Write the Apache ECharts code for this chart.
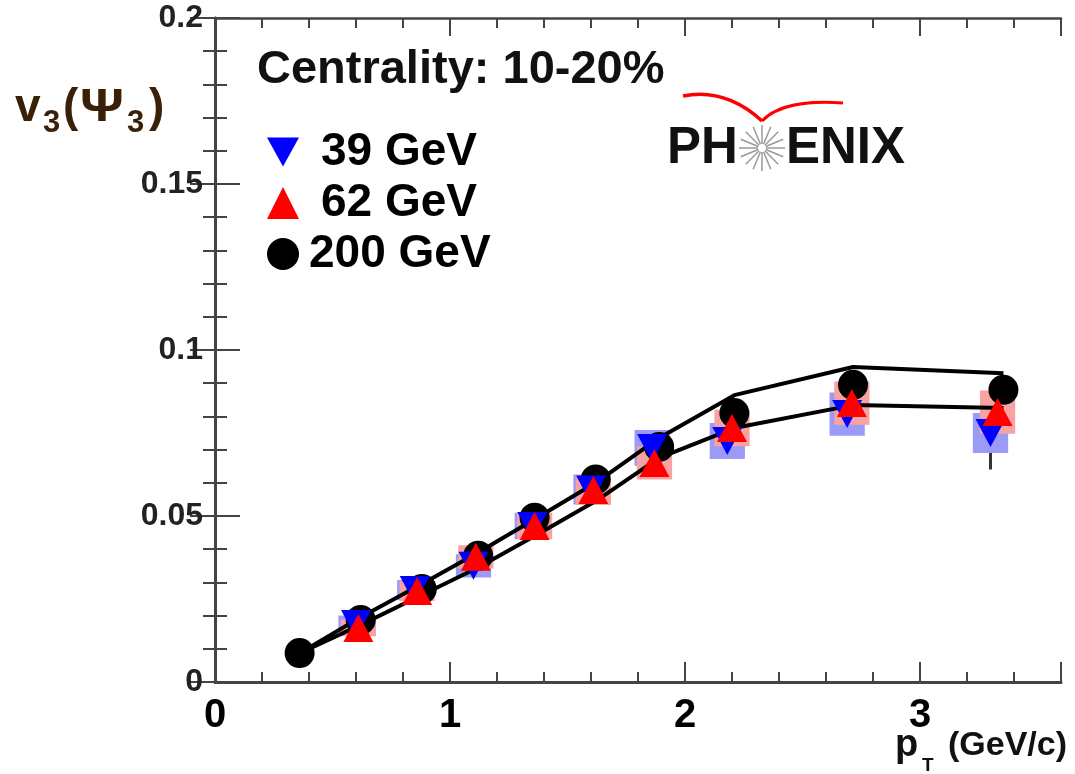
<!DOCTYPE html>
<html>
<head>
<meta charset="utf-8">
<script src="https://cdn.jsdelivr.net/npm/echarts@6/dist/echarts.min.js"></script>
<style>
html,body{margin:0;padding:0;background:#fff;}
#main{width:1075px;height:774px;}
</style>
</head>
<body>
<div id="main"></div>
<script>
// 39 GeV
var x39 = [0.60, 0.85, 1.10, 1.35, 1.60, 1.86, 2.18, 2.69, 3.30];
var v39 = [0.0175, 0.0277, 0.0350, 0.0470, 0.0580, 0.0705, 0.0726, 0.0807, 0.0750];
var stat39 = [0.0008, 0.0009, 0.0011, 0.0014, 0.0018, 0.0024, 0.0034, 0.0055, 0.0110];
var sys39 = [0.0025, 0.0030, 0.0035, 0.0040, 0.0045, 0.0054, 0.0054, 0.0065, 0.0060];
// 62 GeV
var x62 = [0.61, 0.86, 1.11, 1.36, 1.61, 1.87, 2.20, 2.71, 3.33];
var v62 = [0.0163, 0.0274, 0.0377, 0.0470, 0.0578, 0.0660, 0.0765, 0.0840, 0.0813];
var stat62 = [0.0007, 0.0008, 0.0010, 0.0012, 0.0015, 0.0020, 0.0028, 0.0040, 0.0050];
var sys62 = [0.0025, 0.0030, 0.0035, 0.0040, 0.0045, 0.0050, 0.0055, 0.0065, 0.0065];
// 200 GeV
var x200 = [0.36, 0.62, 0.88, 1.12, 1.36, 1.62, 1.89, 2.21, 2.715, 3.355];
var v200 = [0.0087, 0.0187, 0.0280, 0.0380, 0.0495, 0.0610, 0.0708, 0.0810, 0.0895, 0.0880];
var sysHi200 = [0.0087, 0.0195, 0.0295, 0.0390, 0.0490, 0.0600, 0.0735, 0.0864, 0.0949, 0.0930];
var sysLo200 = [0.0087, 0.0172, 0.0262, 0.0345, 0.0440, 0.0545, 0.0675, 0.0765, 0.0834, 0.0825];

var xTicksMajor = 1, xTicksMinor = 0.2;

var FONT = '"Liberation Sans", Arial, Helvetica, sans-serif';
var axisCol = '#444';
var titleCol = '#3a2008';

function pairs(xs, ys) {
    return xs.map(function (x, i) { return [x, ys[i]]; });
}

// systematic boxes
function boxSeries(name, xs, ys, sys, color, z) {
    return {
        name: name, type: 'custom', z: z, silent: true,
        data: xs.map(function (x, i) { return [x, ys[i], sys[i]]; }),
        renderItem: function (params, api) {
            var x = api.value(0), y = api.value(1), s = api.value(2);
            var p1 = api.coord([x - 0.075, y + s]);
            var p2 = api.coord([x + 0.075, y - s]);
            return {
                type: 'rect',
                shape: {x: p1[0], y: p1[1], width: p2[0] - p1[0], height: p2[1] - p1[1]},
                style: {fill: color}
            };
        }
    };
}

// stat error bars
function errSeries(name, xs, ys, err) {
    return {
        name: name, type: 'custom', z: 0, silent: true,
        data: xs.map(function (x, i) { return [x, ys[i], err[i]]; }),
        renderItem: function (params, api) {
            var x = api.value(0), y = api.value(1), e = api.value(2);
            var a = api.coord([x, y + e]);
            var b = api.coord([x, y - e]);
            return {
                type: 'line',
                shape: {x1: a[0], y1: a[1], x2: b[0], y2: b[1]},
                style: {stroke: '#333', lineWidth: 3}
            };
        }
    };
}

function lineSeries(name, xs, ys) {
    return {
        name: name, type: 'line', z: 3, silent: true,
        data: pairs(xs, ys),
        symbol: 'none',
        lineStyle: {color: '#000', width: 4}
    };
}

// PHENIX star spokes
var spokes = [];
for (var k = 0; k < 16; k++) {
    var a = k * Math.PI / 8;
    spokes.push({
        type: 'line',
        shape: {x1: 762 + 4 * Math.cos(a), y1: 148 + 4 * Math.sin(a), x2: 762 + 23 * Math.cos(a), y2: 148 + 23 * Math.sin(a)},
        style: {stroke: '#9a9a9a', lineWidth: 1.5}
    });
}

var myChart = echarts.init(document.getElementById('main'));
var option = {
    backgroundColor: '#fff',
    animation: false,
    grid: {left: 215, right: 14, top: 18, bottom: 92},
    legend: {
        orient: 'vertical',
        left: 262, top: 124,
        itemWidth: 32, itemHeight: 32, itemGap: 5,
        textStyle: {
            fontSize: 46, fontWeight: 'bold', fontFamily: FONT, color: '#000',
            rich: {
                n: {fontSize: 46, fontWeight: 'bold', fontFamily: FONT, color: '#000', padding: [0, 0, 0, 17]},
                w: {fontSize: 46, fontWeight: 'bold', fontFamily: FONT, color: '#000', padding: [0, 0, 0, 5]}
            }
        },
        formatter: function (name) {
            return name === '200 GeV' ? '{w|' + name + '}' : '{n|' + name + '}';
        },
        data: [
            {name: '39 GeV', icon: 'path://M0,0 L2,0 L1,1.8 Z'},
            {name: '62 GeV', icon: 'triangle'},
            {name: '200 GeV', icon: 'circle'}
        ],
        selectedMode: false
    },
    xAxis: [
        {
            type: 'value', min: 0, max: 3.6, interval: xTicksMajor, position: 'bottom',
            axisLine: {lineStyle: {color: axisCol, width: 3}},
            axisTick: {inside: true, length: 20, lineStyle: {color: axisCol, width: 2}},
            splitLine: {show: false},
            axisLabel: {
                fontSize: 40, fontWeight: 'bold', fontFamily: FONT, color: '#000', margin: 14,
                formatter: function (v) { return Math.abs(v - Math.round(v)) < 1e-6 ? String(Math.round(v)) : ''; }
            }
        },
        {
            type: 'value', min: 0, max: 3.6, interval: xTicksMinor, position: 'bottom',
            axisLine: {show: false},
            axisTick: {inside: true, length: 10, lineStyle: {color: axisCol, width: 2}},
            splitLine: {show: false}, axisLabel: {show: false}
        },
        {
            type: 'value', min: 0, max: 3.6, interval: xTicksMajor, position: 'top',
            axisLine: {lineStyle: {color: axisCol, width: 2.5}},
            axisTick: {inside: true, length: 18, lineStyle: {color: axisCol, width: 2}},
            splitLine: {show: false}, axisLabel: {show: false}
        },
        {
            type: 'value', min: 0, max: 3.6, interval: xTicksMinor, position: 'top',
            axisLine: {show: false},
            axisTick: {inside: true, length: 10, lineStyle: {color: axisCol, width: 2}},
            splitLine: {show: false}, axisLabel: {show: false}
        }
    ],
    yAxis: [
        {
            type: 'value', min: 0, max: 0.2, interval: 0.05, position: 'left',
            axisLine: {show: true, lineStyle: {color: axisCol, width: 3}},
            axisTick: {show: true, inside: true, length: 25, lineStyle: {color: axisCol, width: 2}},
            minorTick: {show: true, splitNumber: 5, length: 12, lineStyle: {color: axisCol, width: 2}},
            splitLine: {show: false},
            axisLabel: {fontSize: 32, fontWeight: 'bold', fontFamily: FONT, color: '#222', margin: 12}
        },
        {
            type: 'value', min: 0, max: 0.2, interval: 0.05, position: 'right',
            axisLine: {show: true, lineStyle: {color: axisCol, width: 2.5}},
            axisTick: {show: true, inside: true, length: 25, lineStyle: {color: axisCol, width: 2}},
            minorTick: {show: true, splitNumber: 5, length: 12, lineStyle: {color: axisCol, width: 2}},
            splitLine: {show: false}, axisLabel: {show: false}
        }
    ],
    series: [
        errSeries('err39', x39, v39, stat39),
        errSeries('err62', x62, v62, stat62),
        boxSeries('sys39', x39, v39, sys39, '#9b9bf7', 1),
        boxSeries('sys62', x62, v62, sys62, '#f7a3a3', 2),
        lineSeries('sysHi200', x200, sysHi200),
        lineSeries('sysLo200', x200, sysLo200),
        {
            name: '200 GeV', type: 'scatter', z: 4,
            data: pairs(x200, v200),
            symbol: 'circle', symbolSize: 30,
            itemStyle: {color: '#000', opacity: 1}
        },
        {
            name: '39 GeV', type: 'scatter', z: 5,
            data: pairs(x39, v39),
            symbol: 'triangle', symbolRotate: 180, symbolSize: [30, 28],
            itemStyle: {color: '#0000ff', opacity: 1}
        },
        {
            name: '62 GeV', type: 'scatter', z: 6,
            data: pairs(x62, v62),
            symbol: 'triangle', symbolSize: [30, 28],
            itemStyle: {color: '#ff0000', opacity: 1}
        }
    ],
    graphic: [
        {type: 'text', left: 257, top: 47, style: {text: 'Centrality: 10-20%', font: 'bold 47px ' + FONT, fill: '#111'}},
        // y title v3(Psi3)
        {type: 'text', x: 15, y: 108, style: {text: 'v', font: 'bold 46px ' + FONT, fill: titleCol, verticalAlign: 'middle'}},
        {type: 'text', x: 43, y: 123, style: {text: '3', font: 'bold 31px ' + FONT, fill: titleCol, verticalAlign: 'middle'}},
        {type: 'text', x: 63, y: 108, style: {text: '(', font: 'bold 46px ' + FONT, fill: titleCol, verticalAlign: 'middle'}},
        {type: 'text', x: 80, y: 108, scaleX: 1.18, style: {text: 'Ψ', font: 'bold 46px ' + FONT, fill: titleCol, verticalAlign: 'middle'}},
        {type: 'text', x: 127, y: 123, style: {text: '3', font: 'bold 31px ' + FONT, fill: titleCol, verticalAlign: 'middle'}},
        {type: 'text', x: 149, y: 108, style: {text: ')', font: 'bold 46px ' + FONT, fill: titleCol, verticalAlign: 'middle'}},
        // x title pT (GeV/c)
        {type: 'text', x: 895, y: 746, style: {text: 'p', font: 'bold 38px ' + FONT, fill: '#111', verticalAlign: 'middle'}},
        {type: 'text', x: 922, y: 766, style: {text: 'T', font: 'bold 19px ' + FONT, fill: '#111', verticalAlign: 'middle'}},
        {type: 'text', x: 948, y: 746, style: {text: '(GeV/c)', font: 'bold 34px ' + FONT, fill: '#111', verticalAlign: 'middle'}},
        // PHENIX logo
        {type: 'text', x: 667, y: 149, style: {text: 'PH', font: 'bold 51px ' + FONT, fill: '#111', verticalAlign: 'middle'}},
        {type: 'text', x: 786, y: 149, style: {text: 'ENIX', font: 'bold 51px ' + FONT, fill: '#111', verticalAlign: 'middle'}},
        {type: 'group', children: spokes},
        {type: 'bezierCurve', shape: {x1: 683, y1: 96, cpx1: 720, cpy1: 88, cpx2: 748, cpy2: 108, x2: 762, y2: 121}, style: {stroke: '#f00', lineWidth: 3.5, fill: 'none'}},
        {type: 'bezierCurve', shape: {x1: 762, y1: 121, cpx1: 776, cpy1: 106, cpx2: 805, cpy2: 100, x2: 843, y2: 103}, style: {stroke: '#f00', lineWidth: 3, fill: 'none'}}
    ]
};
myChart.setOption(option);
</script>
</body>
</html>
